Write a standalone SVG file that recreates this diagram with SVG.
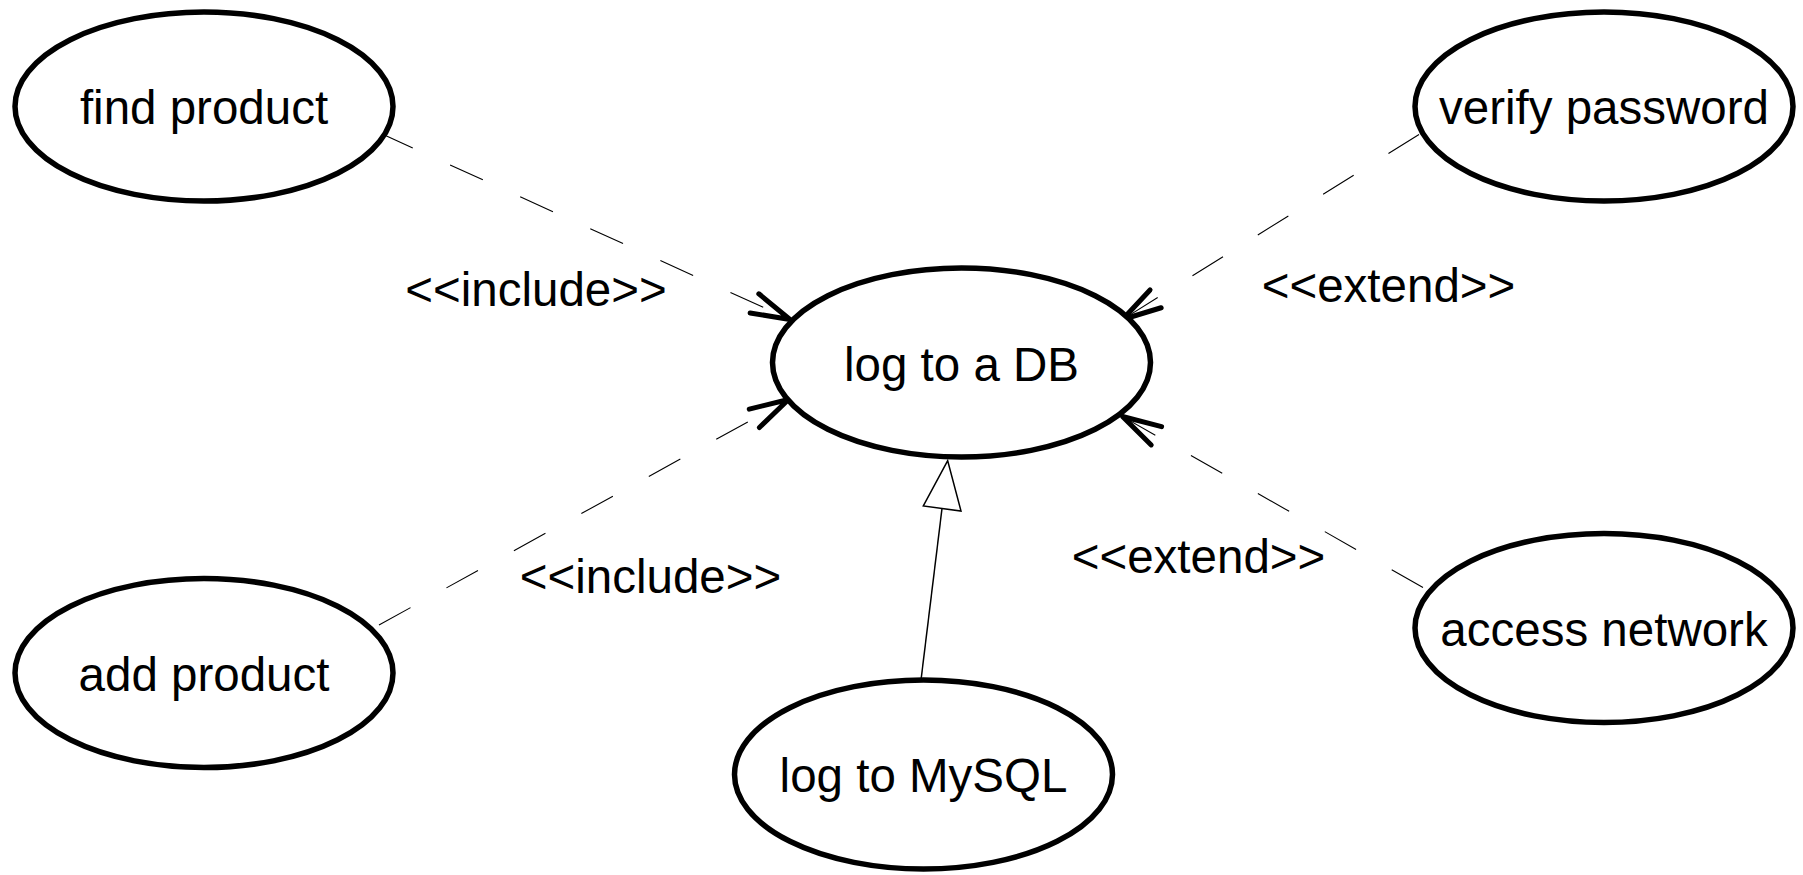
<svg xmlns="http://www.w3.org/2000/svg" width="1803" height="875" viewBox="0 0 1803 875">
  <style>
    .usecase { fill: #ffffff; stroke: #000000; stroke-width: 5.5; }
    .label { font-family: "Liberation Sans", Arial, sans-serif; font-size: 47.5px; fill: #000000; text-anchor: middle; }
    .dep { fill: none; stroke: #000000; stroke-width: 1.1; stroke-dasharray: 36 41; }
    .gen { fill: none; stroke: #000000; stroke-width: 1.5; }
    .gen-head { fill: #ffffff; stroke: #000000; stroke-width: 1.5; stroke-linejoin: miter; }
  </style>
  <defs>
    <!-- open arrowhead for include / extend dependencies -->
    <marker id="open-arrow" markerUnits="userSpaceOnUse" viewBox="-42 -14 46 28" refX="0" refY="0" markerWidth="46" markerHeight="28" orient="auto" overflow="visible">
      <path d="M -39,-10.5 L 0,0 L -39,10.5" fill="none" stroke="#000000" stroke-width="5" stroke-linecap="round" stroke-linejoin="round" stroke-dasharray="none"/>
    </marker>
  </defs>

  <rect x="0" y="0" width="1803" height="875" fill="#ffffff"/>

  <!-- dependencies and generalization -->
  <g id="connectors">
    <path class="dep" d="M 380,133 L 790,319.5" marker-end="url(#open-arrow)"/>
    <path class="dep" d="M 379,625 L 788.5,399.5" marker-end="url(#open-arrow)"/>
    <path class="dep" d="M 1419,134.5 L 1122.5,319.5" marker-end="url(#open-arrow)"/>
    <path class="dep" d="M 1423,587.5 L 1122.5,416.5" marker-end="url(#open-arrow)"/>
    <path class="gen" d="M 921,680 L 942,508.5"/>
    <polygon class="gen-head" points="947.7,460.7 923.3,506 961,511"/>
    <text class="label" x="536" y="306">&lt;&lt;include&gt;&gt;</text>
    <text class="label" x="650.5" y="593">&lt;&lt;include&gt;&gt;</text>
    <text class="label" x="1388.5" y="302">&lt;&lt;extend&gt;&gt;</text>
    <text class="label" x="1198.5" y="573">&lt;&lt;extend&gt;&gt;</text>
  </g>

  <!-- use cases -->
  <g id="find-product">
    <ellipse class="usecase" cx="204" cy="106.5" rx="189" ry="94.5"/>
    <text class="label" x="204" y="124">find product</text>
  </g>
  <g id="add-product">
    <ellipse class="usecase" cx="204" cy="673" rx="189" ry="94.5"/>
    <text class="label" x="204" y="690.5">add product</text>
  </g>
  <g id="log-to-db">
    <ellipse class="usecase" cx="961.5" cy="362.5" rx="189" ry="94.5"/>
    <text class="label" x="961.5" y="380.5">log to a DB</text>
  </g>
  <g id="verify-password">
    <ellipse class="usecase" cx="1604" cy="106.5" rx="189" ry="94.5"/>
    <text class="label" x="1604" y="124">verify password</text>
  </g>
  <g id="access-network">
    <ellipse class="usecase" cx="1604" cy="628" rx="189" ry="94.5"/>
    <text class="label" x="1604" y="645.5">access network</text>
  </g>
  <g id="log-to-mysql">
    <ellipse class="usecase" cx="923.5" cy="774.5" rx="189" ry="94.5"/>
    <text class="label" x="923.5" y="792">log to MySQL</text>
  </g>
</svg>
